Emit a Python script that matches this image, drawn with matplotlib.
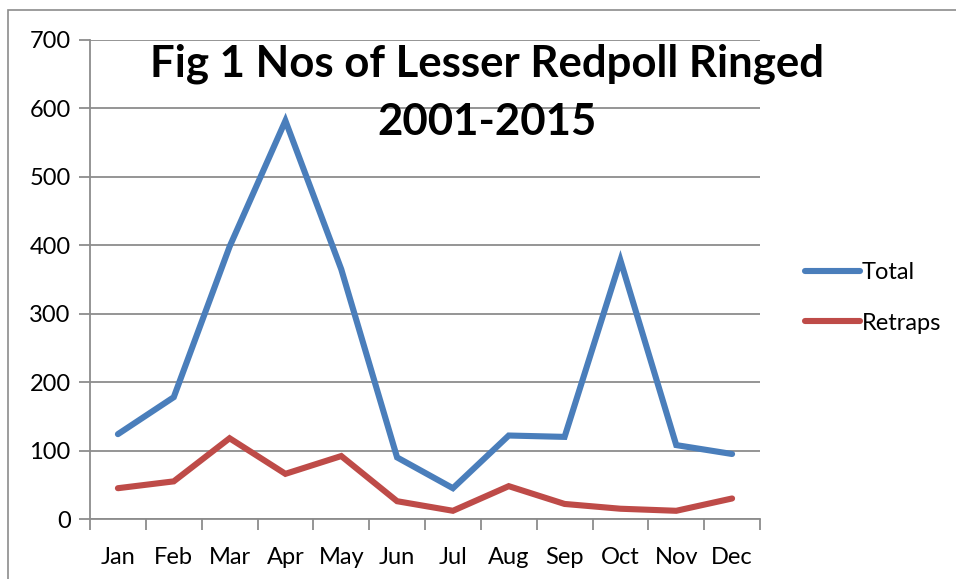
import matplotlib
matplotlib.use("Agg")
import matplotlib.pyplot as plt
from matplotlib.lines import Line2D
from matplotlib.patches import Rectangle

months = ["Jan", "Feb", "Mar", "Apr", "May", "Jun", "Jul", "Aug", "Sep", "Oct", "Nov", "Dec"]
total = [124, 178, 398, 582, 365, 90, 45, 122, 120, 378, 108, 95]
retraps = [45, 55, 118, 66, 92, 26, 12, 48, 22, 15, 12, 30]
yticks = [0, 100, 200, 300, 400, 500, 600, 700]

plt.rcParams['font.family'] = ['Lato', 'DejaVu Sans']

W, H = 956, 579
fig = plt.figure(figsize=(W / 100, H / 100), dpi=100)
ax = fig.add_axes([90 / W, 1 - 519 / H, 670 / W, 479 / H])

# outer chart border
fig.patches.append(Rectangle((8 / W, -0.1), 1.2, 1 - 10 / H + 0.1, transform=fig.transFigure,
                             fill=False, edgecolor='#8c8c8c', linewidth=1.2, zorder=0))

LW = 4.4
x = list(range(len(months)))
ax.plot(x, total, color='#4A7EBB', linewidth=LW, solid_capstyle='round', solid_joinstyle='miter', label='Total', zorder=3)
ax.plot(x, retraps, color='#BE4B48', linewidth=LW, solid_capstyle='round', solid_joinstyle='miter', label='Retraps', zorder=3)

ax.set_xlim(-0.5, len(months) - 0.5)
ax.set_ylim(0, 700)
ax.set_yticks(yticks)
ax.set_yticklabels([str(v) for v in yticks], fontsize=17)
ax.yaxis.grid(True, color='#8c8c8c', linewidth=1.3)
ax.set_axisbelow(True)

ax.set_xticks(x)
ax.set_xticklabels(months, fontsize=17)
ax.tick_params(axis='x', length=0, pad=20)
ax.set_xticks([i - 0.5 for i in range(len(months) + 1)], minor=True)
ax.tick_params(axis='x', which='minor', length=8, color='#8c8c8c', width=1.3, direction='out')
ax.tick_params(axis='y', length=8, color='#8c8c8c', width=1.3, direction='out', pad=6)

for s in ['top', 'right']:
    ax.spines[s].set_visible(False)
for s in ['left', 'bottom']:
    ax.spines[s].set_color('#8c8c8c')
    ax.spines[s].set_linewidth(1.3)

fig.text(487 / W, 1 - 64 / H, "Fig 1 Nos of Lesser Redpoll Ringed", ha='center', va='center',
         fontsize=31.5, fontweight='bold')
fig.text(487 / W, 1 - 122 / H, "2001-2015", ha='center', va='center',
         fontsize=31.5, fontweight='bold')

handles = [Line2D([], [], color='#4A7EBB', linewidth=LW, solid_capstyle='round'),
           Line2D([], [], color='#BE4B48', linewidth=LW, solid_capstyle='round')]
fig.legend(handles, ['Total', 'Retraps'], loc='center left', bbox_to_anchor=(784 / W, 1 - 298 / H),
           frameon=False, fontsize=17, handlelength=2.3, handletextpad=0.1, labelspacing=1.25)

fig.savefig("out.png", dpi=100)
